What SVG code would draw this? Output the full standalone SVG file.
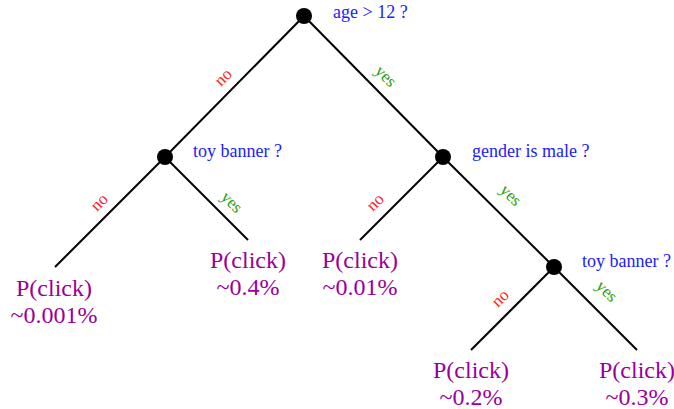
<svg xmlns="http://www.w3.org/2000/svg" width="674" height="409" viewBox="0 0 674 409">
<style>
text{font-family:"Liberation Serif","Times New Roman","DejaVu Serif",serif}
.e{stroke:#000;stroke-width:2;fill:none}
.n{fill:#000}
.q{font-size:18px;fill:#2020ff}
.lf{font-size:24px;fill:#990099;text-anchor:middle}
.no{font-size:17px;fill:#ff2020;text-anchor:middle}
.yes{font-size:17px;fill:#20a020;text-anchor:middle}
</style>
<rect width="674" height="409" fill="#fff"/>
<g id="connectors">
<line class="e" x1="304" y1="16" x2="165" y2="157"/>
<line class="e" x1="304" y1="16" x2="443" y2="157"/>
<line class="e" x1="165" y1="157" x2="55" y2="267"/>
<line class="e" x1="165" y1="157" x2="248" y2="240"/>
<line class="e" x1="443" y1="157" x2="360" y2="240"/>
<line class="e" x1="443" y1="157" x2="554" y2="267"/>
<line class="e" x1="554" y1="267" x2="471" y2="350"/>
<line class="e" x1="554" y1="267" x2="637" y2="350"/>
<text class="no" transform="translate(227,81) rotate(-45)">no</text>
<text class="yes" transform="translate(382,80) rotate(45)">yes</text>
<text class="no" transform="translate(103,206) rotate(-45)">no</text>
<text class="yes" transform="translate(228,206) rotate(45)">yes</text>
<text class="no" transform="translate(379,206) rotate(-45)">no</text>
<text class="yes" transform="translate(507,199) rotate(45)">yes</text>
<text class="no" transform="translate(504,302) rotate(-45)">no</text>
<text class="yes" transform="translate(603,295) rotate(45)">yes</text>
</g>
<g id="n-root"><circle class="n" cx="304" cy="16" r="8"/><text class="q" x="333" y="18">age &gt; 12 ?</text></g>
<g id="n-toy1"><circle class="n" cx="165" cy="157" r="8"/><text class="q" x="193" y="157">toy banner ?</text></g>
<g id="n-gender"><circle class="n" cx="443" cy="157" r="8"/><text class="q" x="472" y="157">gender is male ?</text></g>
<g id="n-toy2"><circle class="n" cx="554" cy="267" r="8"/><text class="q" x="582" y="267">toy banner ?</text></g>
<g id="leaf1"><text class="lf" x="54" y="296">P(click)</text><text class="lf" x="54" y="323">~0.001%</text></g>
<g id="leaf2"><text class="lf" x="248" y="268">P(click)</text><text class="lf" x="248" y="295">~0.4%</text></g>
<g id="leaf3"><text class="lf" x="360" y="268">P(click)</text><text class="lf" x="360" y="295">~0.01%</text></g>
<g id="leaf4"><text class="lf" x="471" y="378">P(click)</text><text class="lf" x="471" y="405">~0.2%</text></g>
<g id="leaf5"><text class="lf" x="637" y="378">P(click)</text><text class="lf" x="637" y="405">~0.3%</text></g>
</svg>
